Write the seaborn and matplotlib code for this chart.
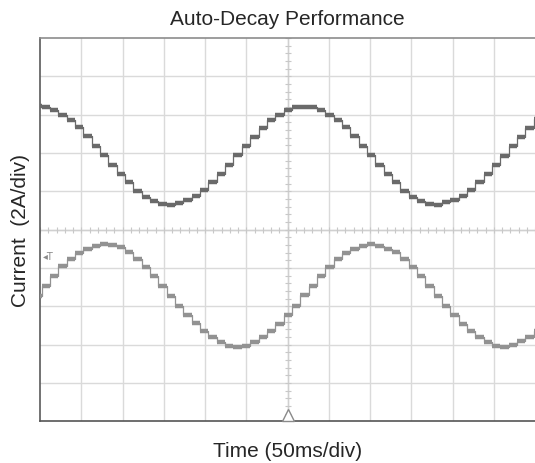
import numpy as np
import pandas as pd
import matplotlib
matplotlib.use("Agg")
import matplotlib.pyplot as plt
import seaborn as sns

# ---- data (in divisions; x: 0..12 div of 50 ms, y: 0..10 div of 2 A) ----
step_start = -0.162      # start time of first quantisation step (div)
step_width = 0.2022      # width of one step (div)

upper_levels = [8.22,
    8.21, 8.13, 8.00, 7.86, 7.67, 7.45, 7.19, 6.95, 6.70, 6.45,
    6.24, 6.02, 5.85, 5.76, 5.67, 5.65, 5.69, 5.78, 5.89, 6.04,
    6.24, 6.45, 6.70, 6.94, 7.18, 7.43, 7.65, 7.85, 8.00, 8.13,
    8.19, 8.21, 8.21, 8.12, 8.00, 7.86, 7.67, 7.44, 7.19, 6.95,
    6.70, 6.45, 6.24, 6.02, 5.86, 5.76, 5.67, 5.65, 5.72, 5.78,
    5.89, 6.04, 6.24, 6.45, 6.70, 6.93, 7.18, 7.43, 7.65, 7.89]

lower_levels = [3.28,
    3.54, 3.80, 4.05, 4.24, 4.39, 4.50, 4.58, 4.63, 4.61, 4.54,
    4.41, 4.24, 4.04, 3.80, 3.54, 3.28, 3.02, 2.78, 2.56, 2.35,
    2.19, 2.06, 1.97, 1.93, 1.96, 2.06, 2.19, 2.35, 2.54, 2.78,
    3.02, 3.30, 3.54, 3.80, 4.04, 4.23, 4.39, 4.50, 4.58, 4.63,
    4.58, 4.50, 4.41, 4.24, 4.04, 3.80, 3.54, 3.28, 3.02, 2.78,
    2.54, 2.35, 2.19, 2.06, 1.97, 1.94, 2.00, 2.09, 2.21, 2.35]

title = "Auto-Decay Performance"
xlabel = "Time (50ms/div)"
ylabel = "Current  (2A/div)"
n_xdiv, n_ydiv = 12, 10

# ---- figure ----
sns.set_style("white")
plt.rcParams["font.family"] = ["Liberation Sans", "DejaVu Sans"]

fig = plt.figure(figsize=(5.35, 4.64), dpi=100)
ax = fig.add_axes([40 / 535, 1 - 422.4 / 464, 495 / 535, (422.4 - 39) / 464])

def make_df(levels):
    t = step_start + step_width * np.arange(len(levels) + 1)
    v = list(levels) + [levels[-1]]
    return pd.DataFrame({"t": t, "v": v})

series = [(upper_levels, "#6a6a6a"), (lower_levels, "#929292")]
for levels, col in series:
    df = make_df(levels)
    sns.lineplot(data=df, x="t", y="v", ax=ax, drawstyle="steps-post",
                 color=col, lw=0.9, estimator=None, sort=False, zorder=3)
    ax.hlines(df["v"].values[:-1], df["t"].values[:-1], df["t"].values[1:],
              colors=col, lw=3.2, zorder=4)

# grid
for i in range(1, n_xdiv):
    ax.axvline(i, color="#dadada", lw=1.0, zorder=1)
for j in range(1, n_ydiv):
    ax.axhline(j, color="#dadada", lw=1.0, zorder=1)
# centre cross-hair with minor ticks
ax.axvline(n_xdiv / 2, color="#d0d0d0", lw=1.0, zorder=1.5)
ax.axhline(n_ydiv / 2, color="#d0d0d0", lw=1.0, zorder=1.5)
mx = np.arange(0, n_xdiv + 0.01, 0.2)
my = np.arange(0, n_ydiv + 0.01, 0.2)
ax.plot(mx, np.full_like(mx, n_ydiv / 2), ls="none", marker="|", ms=4,
        mew=0.8, color="#c8c8c8", zorder=1.6)
ax.plot(np.full_like(my, n_xdiv / 2), my, ls="none", marker="_", ms=4,
        mew=0.8, color="#c8c8c8", zorder=1.6)

# trigger markers
ax.text(0.08, 4.31, "◂T", fontsize=7, color="#8a8a8a", va="center",
        ha="left", family=["DejaVu Sans"], zorder=5)
ax.plot([n_xdiv / 2], [0.16], marker="^", ms=9, mfc="white", mec="#8a8a8a",
        mew=1.0, clip_on=False, zorder=6)

ax.set_xlim(0, n_xdiv)
ax.set_ylim(0, n_ydiv)
ax.set_xticks([])
ax.set_yticks([])
ax.set_xlabel(xlabel, fontsize=15, labelpad=14)
ax.set_ylabel(ylabel, fontsize=15, labelpad=7)
ax.set_title(title, fontsize=15, pad=10)

for side, col in [("left", "#5a5a5a"), ("bottom", "#555555"), ("top", "#8c8c8c")]:
    ax.spines[side].set_visible(True)
    ax.spines[side].set_color(col)
    ax.spines[side].set_linewidth(1.2)
ax.spines["right"].set_visible(False)

fig.savefig("out.png", dpi=100)
